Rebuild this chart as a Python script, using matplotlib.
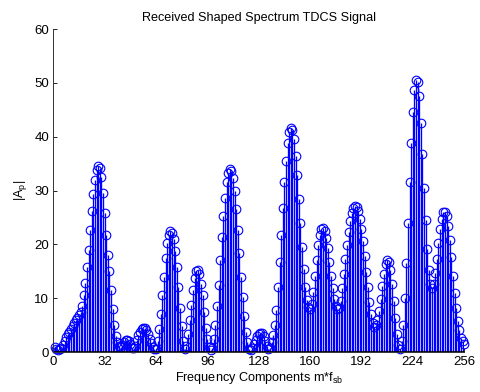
import numpy as np
import matplotlib
matplotlib.use("Agg")
import matplotlib.pyplot as plt

plt.rcParams['font.family'] = ['Liberation Sans', 'DejaVu Sans']

# frequency component index m (1..256) and magnitude |A_p|
m = np.arange(1, 257)
amp = [
    0.9, 0.6, 0.4, 0.5, 0.8, 1.3, 2.0, 2.7, 3.3, 3.8,
    4.3, 4.9, 5.4, 5.9, 6.4, 6.9, 7.4, 8.6, 10.5, 12.8,
    15.8, 19.0, 22.6, 26.2, 29.4, 32.0, 33.8, 34.5, 34.2, 32.5,
    29.5, 25.8, 21.8, 18.0, 15.0, 11.5, 8.0, 5.0, 3.0, 1.8,
    1.1, 1.0, 1.3, 1.8, 2.2, 2.3, 2.0, 1.4, 0.8, 0.7,
    1.2, 2.2, 3.2, 3.8, 4.3, 4.5, 4.4, 4.0, 3.3, 2.5,
    1.7, 1.0, 0.5, 0.6, 2.0, 4.2, 7.0, 10.5, 14.0, 17.5,
    20.3, 21.8, 22.4, 22.2, 21.0, 18.8, 15.8, 12.0, 8.2, 4.8,
    2.0, 0.5, 1.2, 3.3, 6.0, 8.8, 11.6, 13.8, 15.1, 15.3,
    14.5, 12.6, 10.5, 7.5, 4.5, 2.5, 1.0, 0.4, 0.7, 2.5,
    5.0, 8.5, 12.5, 17.0, 21.3, 25.3, 28.7, 31.5, 33.3, 34.0,
    33.6, 32.3, 30.0, 26.5, 22.6, 18.3, 14.0, 10.2, 6.7, 3.8,
    1.8, 0.6, 0.4, 0.8, 1.4, 2.2, 2.9, 3.4, 3.6, 3.5,
    2.9, 2.0, 1.2, 0.5, 0.8, 1.8, 3.2, 5.0, 7.8, 12.0,
    16.8, 21.8, 26.8, 31.5, 35.5, 38.8, 40.8, 41.6, 41.2, 39.5,
    36.5, 32.8, 28.5, 24.0, 19.5, 15.5, 12.0, 9.6, 8.3, 8.0,
    9.0, 11.2, 14.2, 17.0, 19.8, 21.8, 22.9, 23.0, 22.4, 21.2,
    19.3, 16.8, 14.2, 11.8, 9.8, 8.5, 8.0, 8.2, 9.4, 11.8,
    14.5, 17.3, 19.9, 22.3, 24.3, 25.8, 26.7, 27.1, 27.0, 26.2,
    24.8, 22.9, 20.6, 17.8, 14.9, 12.0, 9.2, 7.0, 5.4, 4.7,
    5.0, 6.0, 7.6, 9.8, 12.2, 14.5, 16.3, 17.0, 16.8, 15.2,
    12.6, 9.5, 6.3, 3.4, 1.3, 0.6, 2.0, 5.0, 10.0, 16.5,
    24.0, 31.5, 38.8, 44.6, 48.6, 50.5, 50.2, 47.5, 42.5, 36.7,
    30.5, 24.5, 19.2, 15.2, 12.6, 11.8, 12.6, 14.6, 17.2, 20.2,
    22.8, 24.8, 26.0, 26.1, 25.3, 23.5, 20.8, 17.6, 14.2, 11.0,
    8.2, 5.8, 4.0, 2.6, 2.0, 1.4,
]
xticks = [0, 32, 64, 96, 128, 160, 192, 224, 256]
yticks = [0, 10, 20, 30, 40, 50, 60]

fig = plt.figure(figsize=(4.8, 3.92), dpi=100)
ax = fig.add_axes([0.111, 0.102, 0.856, 0.824])

markers, stems, base = ax.stem(m, amp, linefmt='b-', markerfmt='bo', basefmt='k-')
stems.set_linewidth(0.95)
markers.set_markerfacecolor('none')
markers.set_markeredgewidth(0.8)
markers.set_markersize(6.2)
markers.set_clip_on(False)
base.set_linewidth(1.2)
base.set_xdata([0, 256])

ax.set_xlim(0, 256)
ax.set_ylim(0, 60)
ax.set_xticks(xticks)
ax.set_yticks(yticks)
ax.tick_params(direction='in', length=3, width=0.6, labelsize=9.5, pad=3)
ax.spines['top'].set_visible(False)
ax.spines['right'].set_visible(False)
for s in ['left', 'bottom']:
    ax.spines[s].set_color('#333333')
    ax.spines[s].set_linewidth(0.7)

ax.set_title('Received Shaped Spectrum TDCS Signal', fontsize=9.1, pad=6)
ax.set_xlabel('Frequency Components m*f$_{\\mathregular{sb}}$', fontsize=9.1, labelpad=1)
ax.set_ylabel('|A$_{\\mathregular{p}}$|', fontsize=9.1, labelpad=4)

fig.savefig('out.png', dpi=100)
